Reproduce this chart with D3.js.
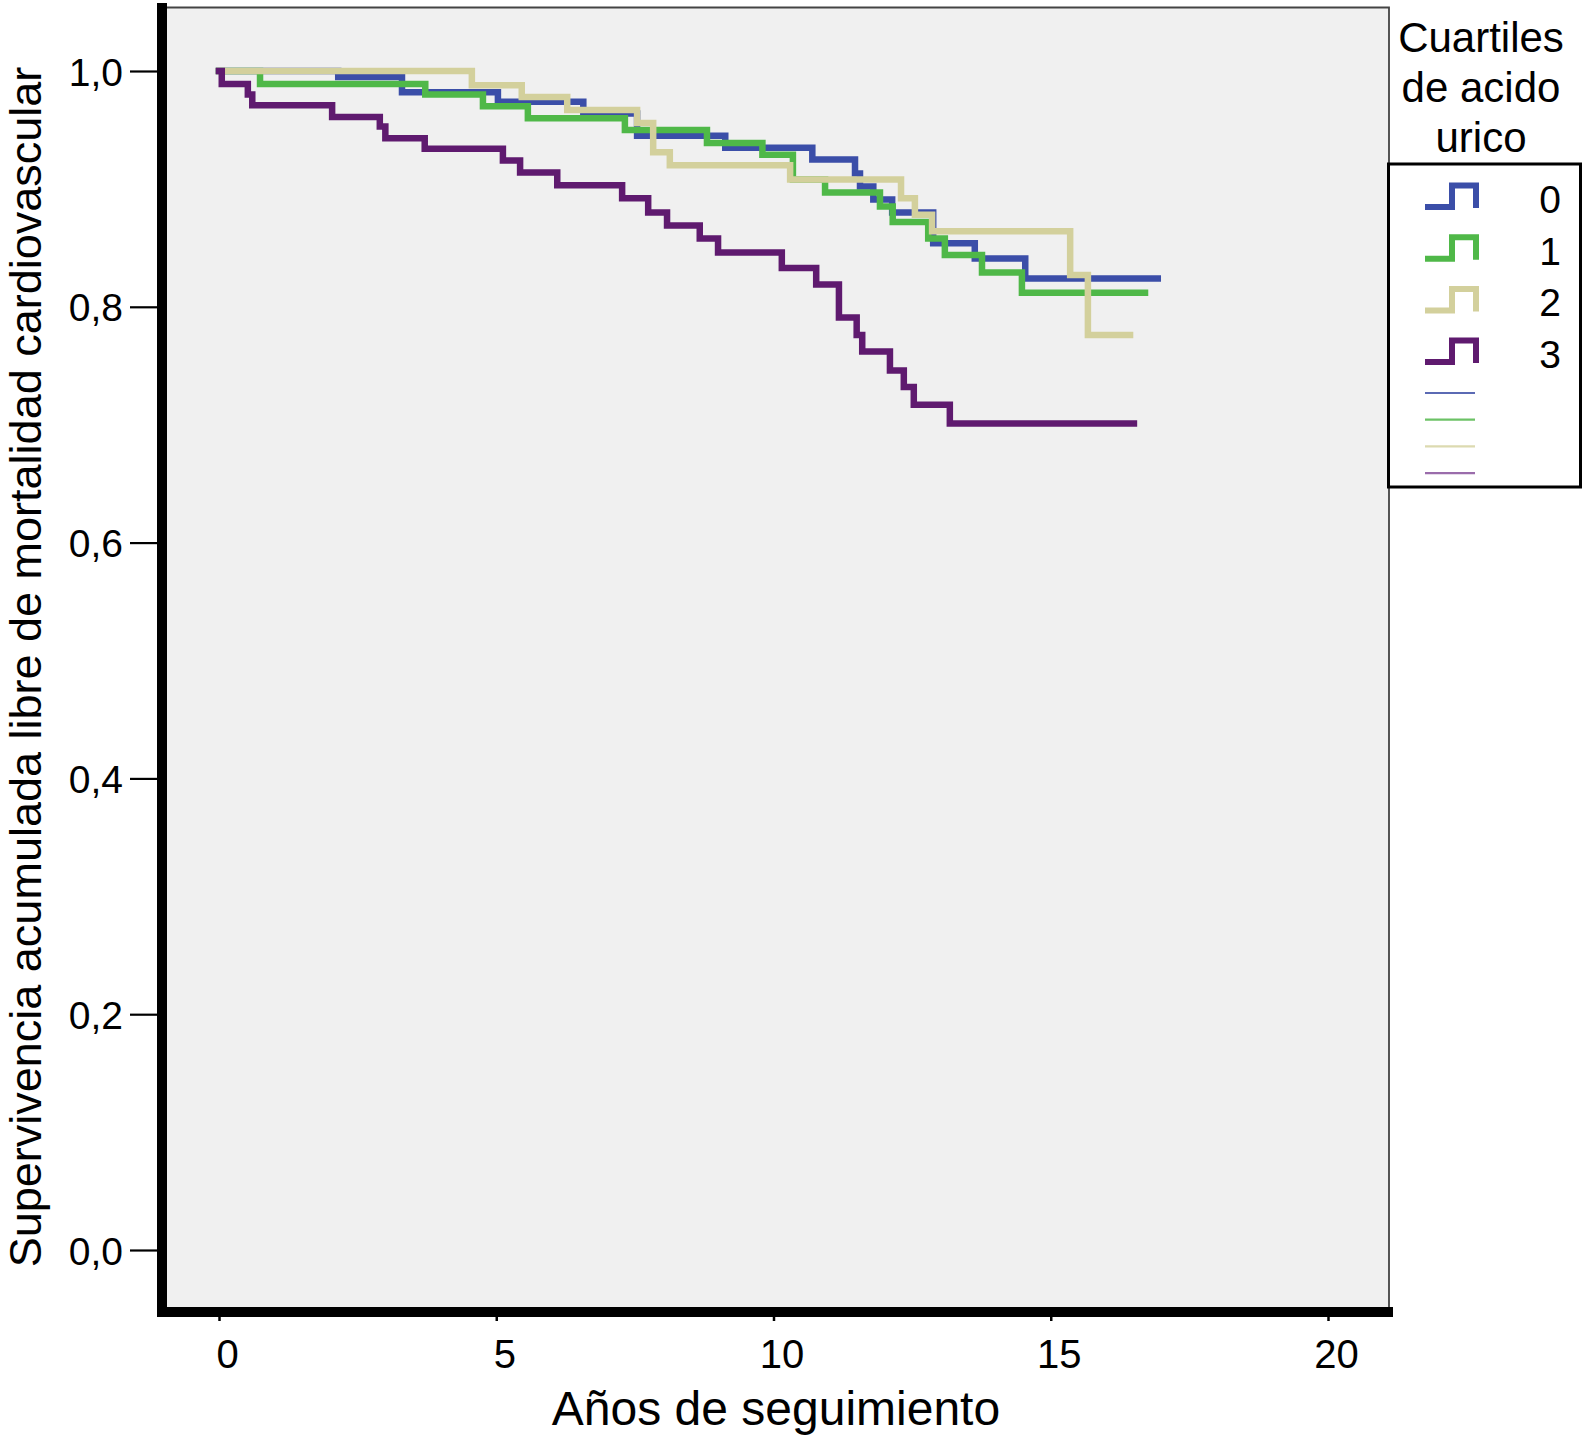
<!DOCTYPE html>
<html>
<head>
<meta charset="utf-8">
<script src="https://cdn.jsdelivr.net/npm/d3@7"></script>
<style>
  body { margin: 0; background: #fff; }
  svg text { font-family: "Liberation Sans", Arial, sans-serif; fill: #000; }
</style>
</head>
<body>
<svg id="chart" width="1584" height="1437"></svg>
<script>
// Kaplan-Meier steps: [time, survival] after each event
const groups = ["0", "1", "2", "3"];
const colors = ["#3b4ea8", "#4fb848", "#d3d09c", "#5f1a6f"];
const thinColors = ["#5b6ab4", "#6cc266", "#dcdab0", "#9a6cab"];

const times0 = [0, 2.15, 3.3, 5.03, 6.57, 7.54, 9.13, 10.7, 11.47, 11.56, 11.8, 12.14, 12.88, 13.63, 14.54];
const surv0  = [1.0, 0.995, 0.982, 0.974, 0.964, 0.945, 0.935, 0.925, 0.913, 0.902, 0.891, 0.880, 0.854, 0.841, 0.824];

const times1 = [0, 0.74, 3.72, 4.76, 5.57, 7.32, 8.8, 9.8, 10.35, 10.93, 11.92, 12.15, 12.79, 13.09, 13.76, 14.48];
const surv1  = [1.0, 0.989, 0.980, 0.970, 0.960, 0.950, 0.939, 0.929, 0.908, 0.897, 0.885, 0.872, 0.858, 0.844, 0.829, 0.812];

const times2 = [0, 4.56, 5.46, 6.28, 7.54, 7.83, 8.13, 10.3, 12.3, 12.55, 12.86, 15.35, 15.67];
const surv2  = [1.0, 0.988, 0.978, 0.967, 0.956, 0.931, 0.920, 0.908, 0.892, 0.878, 0.864, 0.827, 0.776];

const times3 = [0, 0.05, 0.52, 0.6, 2.04, 2.9, 3.0, 3.71, 5.12, 5.43, 6.1, 7.27, 7.74, 8.08, 8.67, 9.0, 10.15, 10.77, 11.18, 11.5, 11.6, 12.1, 12.35, 12.53, 13.18];
const surv3  = [1.0, 0.989, 0.980, 0.971, 0.961, 0.953, 0.943, 0.934, 0.924, 0.914, 0.903, 0.892, 0.880, 0.869, 0.858, 0.846, 0.833, 0.819, 0.791, 0.776, 0.762, 0.746, 0.732, 0.717, 0.701];

// last follow-up time of each group
const endTimes = [16.93, 16.7, 16.43, 16.5];

const xTicks = [0, 5, 10, 15, 20];
const yTicks = [0, 0.2, 0.4, 0.6, 0.8, 1.0];

const allTimes = [times0, times1, times2, times3];
const allSurv = [surv0, surv1, surv2, surv3];

const svg = d3.select("#chart");

let x = d3.scaleLinear().domain([0, 20]).range([219, 1328]);
let y = d3.scaleLinear().domain([0, 1]).range([1250, 71]);

// plot panel
svg.append("rect")
  .attr("x", 167).attr("y", 7)
  .attr("width", 1222).attr("height", 1300)
  .attr("fill", "#f0f0f0");

svg.append("path")
  .attr("d", "M167,7.5H1389V1307")
  .attr("fill", "none")
  .attr("stroke", "#444")
  .attr("stroke-width", 1.8);

// survival curves
let line = d3.line()
  .x(d => x(d[0]))
  .y(d => y(d[1]))
  .curve(d3.curveStepAfter);

groups.forEach((g, i) => {
  let pts = allTimes[i].map((t, j) => [t, allSurv[i][j]]);
  pts.push([endTimes[i], allSurv[i][allSurv[i].length - 1]]);
  svg.append("path")
    .datum(pts)
    .attr("d", line)
    .attr("fill", "none")
    .attr("stroke", colors[i])
    .attr("stroke-width", 6.5)
    .attr("stroke-linejoin", "miter")
    .attr("stroke-linecap", "square");
});

// y axis
let yAxis = d3.axisLeft(y)
  .tickValues(yTicks)
  .tickSize(27)
  .tickPadding(7)
  .tickFormat(d => d3.format(".1f")(d).replace(".", ","));

let gy = svg.append("g")
  .attr("transform", "translate(157,0)")
  .call(yAxis);
gy.select(".domain").remove();
gy.selectAll(".tick line").attr("stroke", "#000").attr("stroke-width", 2.2);
gy.selectAll(".tick text").attr("font-size", 39).attr("dy", "0.36em");

// x axis
let xAxis = d3.axisBottom(x)
  .tickValues(xTicks)
  .tickSize(4)
  .tickPadding(19);

let gx = svg.append("g")
  .attr("transform", "translate(0,1317)")
  .call(xAxis);
gx.select(".domain").remove();
gx.selectAll(".tick line").attr("stroke", "#000").attr("stroke-width", 2.5);
gx.selectAll(".tick text").attr("font-size", 40).attr("dx", 8);

// heavy axis lines
svg.append("line")
  .attr("x1", 162).attr("x2", 162)
  .attr("y1", 3).attr("y2", 1317)
  .attr("stroke", "#000").attr("stroke-width", 10);
svg.append("line")
  .attr("x1", 157).attr("x2", 1393)
  .attr("y1", 1312).attr("y2", 1312)
  .attr("stroke", "#000").attr("stroke-width", 10);

// axis titles
svg.append("text")
  .attr("x", 776).attr("y", 1425)
  .attr("text-anchor", "middle")
  .attr("font-size", 48)
  .text("Años de seguimiento");

svg.append("text")
  .attr("transform", "translate(41,667) rotate(-90)")
  .attr("text-anchor", "middle")
  .attr("font-size", 45)
  .text("Supervivencia acumulada libre de mortalidad cardiovascular");

// legend
let legendTitle = ["Cuartiles", "de acido", "urico"];
svg.selectAll(".ltitle")
  .data(legendTitle)
  .enter().append("text")
  .attr("class", "ltitle")
  .attr("x", 1481)
  .attr("y", (d, i) => 52 + i * 50)
  .attr("text-anchor", "middle")
  .attr("font-size", 42)
  .text(d => d);

svg.append("rect")
  .attr("x", 1388.5).attr("y", 164)
  .attr("width", 192).attr("height", 323)
  .attr("fill", "#fff")
  .attr("stroke", "#000")
  .attr("stroke-width", 3);

let items = svg.selectAll(".litem")
  .data(groups)
  .enter().append("g")
  .attr("class", "litem")
  .attr("transform", (d, i) => `translate(0,${i * 51.7})`);

items.append("path")
  .attr("d", "M1425,207H1452V185.5H1476V208")
  .attr("fill", "none")
  .attr("stroke", (d, i) => colors[i])
  .attr("stroke-width", 6);

items.append("text")
  .attr("x", 1550).attr("y", 199)
  .attr("dy", "0.36em")
  .attr("text-anchor", "middle")
  .attr("font-size", 39)
  .text(d => d);

svg.selectAll(".lthin")
  .data(groups)
  .enter().append("line")
  .attr("class", "lthin")
  .attr("x1", 1425).attr("x2", 1475)
  .attr("y1", (d, i) => 393 + i * 26.7)
  .attr("y2", (d, i) => 393 + i * 26.7)
  .attr("stroke", (d, i) => thinColors[i])
  .attr("stroke-width", 2.2);
</script>
</body>
</html>
